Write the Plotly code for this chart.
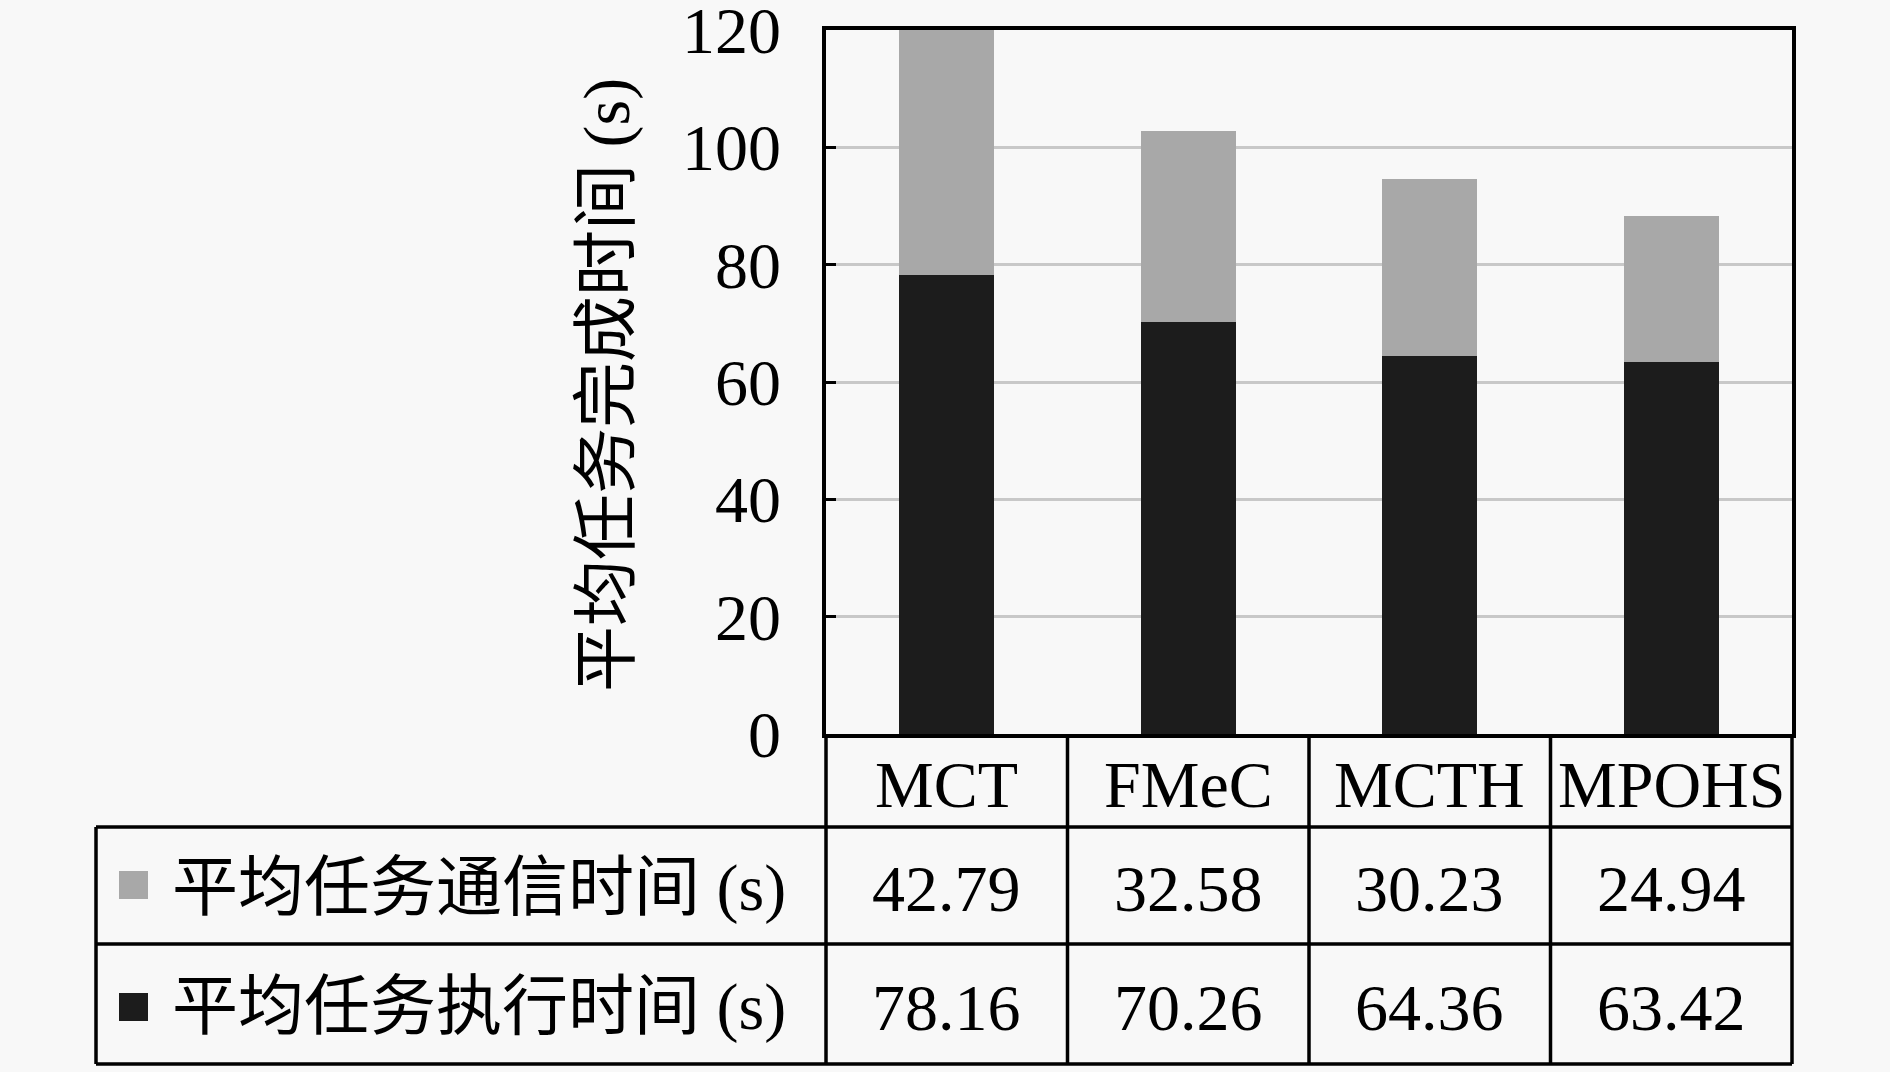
import plotly.graph_objects as go

# ---------------- data ----------------
categories = ["MCT", "FMeC", "MCTH", "MPOHS"]
comm_time = [42.79, 32.58, 30.23, 24.94]   # 平均任务通信时间 (s)
exec_time = [78.16, 70.26, 64.36, 63.42]   # 平均任务执行时间 (s)
series_names = ["平均任务通信时间 (s)", "平均任务执行时间 (s)"]
y_ticks = [0, 20, 40, 60, 80, 100, 120]
y_title = "平均任务完成时间 (s)"

# ---------------- style ----------------
COMM_COLOR = "#a8a8a8"
EXEC_COLOR = "#1c1c1c"
BG = "#f8f8f8"
GRID = "#c8c8c8"
FONT = "Liberation Serif, 'Noto Sans CJK SC', serif"
FS = 66
LW = 3.5

W, H = 1890, 1072
L, R, T, B = 826, 1792, 30, 734      # plot area in pixels
pw, ph = R - L, B - T


def px_x(x):
    return (x - L) / pw


def px_y(y):
    return (B - y) / ph


row_lines = [827, 944, 1064]          # table horizontal lines (px)
table_left = 96
row_centers = [888, 1007]
header_center = 784

fig = go.Figure()
fig.add_trace(go.Bar(x=categories, y=exec_time, name=series_names[1],
                     marker=dict(color=EXEC_COLOR, line=dict(width=0)),
                     width=0.395, showlegend=False))
fig.add_trace(go.Bar(x=categories, y=comm_time, name=series_names[0],
                     marker=dict(color=COMM_COLOR, line=dict(width=0)),
                     width=0.395, showlegend=False))

shapes = []
line = dict(color="black", width=3.5)
# horizontal table lines
for yy in row_lines:
    shapes.append(dict(type="line", xref="paper", yref="paper",
                       x0=px_x(table_left), x1=1, y0=px_y(yy), y1=px_y(yy),
                       line=line, layer="above"))
# vertical lines in category part (category boundaries)
n = len(categories)
for i in range(n + 1):
    xp = i / n
    shapes.append(dict(type="line", xref="paper", yref="paper",
                       x0=xp, x1=xp, y0=0, y1=px_y(row_lines[-1]),
                       line=line, layer="above"))
# left border of the label column
shapes.append(dict(type="line", xref="paper", yref="paper",
                   x0=px_x(table_left), x1=px_x(table_left),
                   y0=px_y(row_lines[0]), y1=px_y(row_lines[-1]),
                   line=line, layer="above"))
# legend squares
for yc, col in zip([885, 1007], [COMM_COLOR, EXEC_COLOR]):
    shapes.append(dict(type="rect", xref="paper", yref="paper",
                       x0=px_x(119), x1=px_x(148),
                       y0=px_y(yc - 14), y1=px_y(yc + 14),
                       fillcolor=col, line=dict(width=0), layer="above"))

annotations = []
font = dict(family=FONT, size=FS, color="black")
for c in categories:
    annotations.append(dict(x=c, xref="x", y=px_y(header_center), yref="paper",
                            text=c, showarrow=False, font=font,
                            xanchor="center", yanchor="middle"))
for vals, yc in zip([comm_time, exec_time], row_centers):
    for c, v in zip(categories, vals):
        annotations.append(dict(x=c, xref="x", y=px_y(yc), yref="paper",
                                text=f"{v:.2f}", showarrow=False, font=font,
                                xanchor="center", yanchor="middle"))
for name, yc in zip(series_names, row_centers):
    annotations.append(dict(x=px_x(170), xref="paper", y=px_y(yc), yref="paper",
                            text=name, showarrow=False, font=font,
                            xanchor="left", yanchor="middle"))
annotations.append(dict(x=px_x(607), xref="paper", y=px_y(385), yref="paper",
                        text=y_title, textangle=-90, showarrow=False, font=font,
                        xanchor="center", yanchor="middle"))

fig.update_layout(
    template="none",
    width=W, height=H,
    margin=dict(l=L, r=W - R, t=T, b=H - B, pad=0, autoexpand=False),
    paper_bgcolor=BG, plot_bgcolor=BG,
    barmode="stack",
    font=font,
    shapes=shapes,
    annotations=annotations,
    xaxis=dict(range=[-0.5, n - 0.5], showticklabels=False, ticks="",
               showgrid=False, zeroline=False, showline=True, mirror=True,
               linecolor="black", linewidth=LW, fixedrange=True,
               automargin=False),
    yaxis=dict(range=[0, 120], tickvals=y_ticks, ticks="inside", ticklen=10,
               tickwidth=3, tickcolor="black", showgrid=True, gridcolor=GRID,
               gridwidth=3, zeroline=False, showline=True, mirror=True,
               linecolor="black", linewidth=LW, ticklabelstandoff=28,
               ticklabeloverflow="allow", automargin=False,
               tickfont=dict(family=FONT, size=FS, color="black"),
               fixedrange=True),
)

fig.write_html("out.html", config={"displayModeBar": False},
               post_script="document.body.style.margin='0';document.body.style.overflow='hidden';")
